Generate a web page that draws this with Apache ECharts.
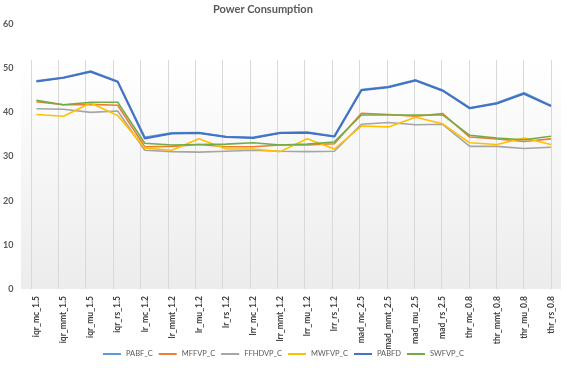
<!DOCTYPE html>
<html>
<head>
<meta charset="utf-8">
<script src="https://cdn.jsdelivr.net/npm/echarts@6/dist/echarts.min.js"></script>
<style>
  html, body { margin: 0; padding: 0; background: #fff; }
  #chart { width: 567px; height: 368px; }
</style>
</head>
<body>
<div id="chart"></div>
<script>
const categories = [
  'iqr_mc_1.5', 'iqr_mmt_1.5', 'iqr_mu_1.5', 'iqr_rs_1.5',
  'lr_mc_1.2', 'lr_mmt_1.2', 'lr_mu_1.2', 'lr_rs_1.2',
  'lrr_mc_1.2', 'lrr_mmt_1.2', 'lrr_mu_1.2', 'lrr_rs_1.2',
  'mad_mc_2.5', 'mad_mmt_2.5', 'mad_mu_2.5', 'mad_rs_2.5',
  'thr_mc_0.8', 'thr_mmt_0.8', 'thr_mu_0.8', 'thr_rs_0.8'
];

const pabfC   = [47.1, 47.9, 49.3, 47.0, 34.3, 35.3, 35.4, 34.5, 34.3, 35.4, 35.5, 34.6, 45.1, 45.8, 47.3, 45.0, 41.0, 42.1, 44.4, 41.5];
const mffvpC  = [42.4, 41.7, 41.8, 41.6, 32.2, 32.3, 32.7, 32.2, 32.2, 32.6, 32.6, 32.9, 39.8, 39.5, 39.1, 39.7, 34.4, 34.0, 33.4, 34.0];
const ffhdvpC = [40.8, 40.7, 40.0, 40.3, 31.4, 31.1, 31.0, 31.2, 31.4, 31.2, 31.1, 31.2, 37.3, 37.7, 37.2, 37.3, 32.3, 32.3, 31.8, 32.1];
const mwfvpC  = [39.5, 39.1, 42.1, 39.3, 31.9, 31.4, 34.0, 31.7, 31.7, 31.1, 34.0, 31.7, 36.9, 36.7, 38.9, 37.4, 33.1, 32.7, 34.2, 32.7];
const pabfd   = [47.0, 47.8, 49.2, 46.9, 34.1, 35.2, 35.3, 34.4, 34.2, 35.3, 35.4, 34.5, 45.0, 45.7, 47.2, 44.9, 40.9, 42.0, 44.2, 41.4];
const swfvpC  = [42.7, 41.7, 42.3, 42.3, 33.0, 32.6, 32.7, 32.8, 33.1, 32.6, 32.8, 33.3, 39.4, 39.4, 39.4, 39.4, 34.8, 34.2, 33.8, 34.6];

const yTicks = { min: 0, max: 60, interval: 10 };

const FONT = 'Lato, "Open Sans", sans-serif';

const seriesDefs = [
  { name: 'PABF_C',   data: pabfC,   color: '#5B9BD5', width: 2 },
  { name: 'MFFVP_C',  data: mffvpC,  color: '#ED7D31', width: 1.6 },
  { name: 'FFHDVP_C', data: ffhdvpC, color: '#A5A5A5', width: 1.6 },
  { name: 'MWFVP_C',  data: mwfvpC,  color: '#FFC000', width: 1.6 },
  { name: 'PABFD',    data: pabfd,   color: '#4472C4', width: 2 },
  { name: 'SWFVP_C',  data: swfvpC,  color: '#70AD47', width: 1.6 }
];

// hidden helper axes for the backdrop grids
const hiddenX = (gridIndex, showSplit) => ({
  type: 'category',
  gridIndex,
  data: categories,
  boundaryGap: false,
  axisLine: { show: false },
  axisTick: { show: false },
  axisLabel: { show: false, interval: 0 },
  splitLine: { show: showSplit, interval: 0, lineStyle: { color: '#d9d9d9', width: 1 } }
});
const hiddenY = gridIndex => ({ type: 'value', gridIndex, show: false, splitLine: { show: false } });

const chart = echarts.init(document.getElementById('chart'));

chart.setOption({
  animation: false,
  title: {
    text: 'Power Consumption',
    left: 208,
    top: -1,
    textStyle: { fontFamily: FONT, fontSize: 11, fontWeight: 'bold', color: '#595959' }
  },
  legend: {
    bottom: 5,
    left: 'center',
    icon: 'rect',
    itemWidth: 18,
    itemHeight: 2,
    itemGap: 6,
    textStyle: { fontFamily: FONT, fontSize: 7.5, color: '#595959' },
    data: seriesDefs.map(s => s.name)
  },
  grid: [
    // main plot
    { left: 31, right: 16, top: 24, bottom: 79 },
    // shaded plot-area backdrop
    {
      left: 21, right: 6, top: 60, bottom: 79, show: true, borderWidth: 0,
      backgroundColor: new echarts.graphic.LinearGradient(0, 0, 0, 1, [
        { offset: 0, color: '#ffffff' },
        { offset: 1, color: '#ececec' }
      ])
    },
    // vertical gridlines through the shaded area only
    { left: 31, right: 16, top: 60, bottom: 79 }
  ],
  xAxis: [
    {
      type: 'category',
      gridIndex: 0,
      data: categories,
      boundaryGap: false,
      axisLine: { show: false },
      axisTick: { show: false },
      splitLine: { show: false },
      axisLabel: {
        rotate: 90,
        interval: 0,
        margin: 7,
        fontFamily: FONT,
        fontSize: 8.5,
        fontWeight: 'bold',
        color: '#404040'
      }
    },
    hiddenX(1, false),
    hiddenX(2, true)
  ],
  yAxis: [
    {
      type: 'value',
      gridIndex: 0,
      min: yTicks.min,
      max: yTicks.max,
      interval: yTicks.interval,
      axisLine: { show: false },
      axisTick: { show: false },
      splitLine: { show: false },
      axisLabel: {
        margin: 23,
        fontFamily: FONT,
        fontSize: 9,
        fontWeight: 'bold',
        color: '#595959'
      }
    },
    hiddenY(1),
    hiddenY(2)
  ],
  series: seriesDefs.map(s => ({
    name: s.name,
    type: 'line',
    xAxisIndex: 0,
    yAxisIndex: 0,
    data: s.data,
    showSymbol: false,
    symbol: 'none',
    lineStyle: { color: s.color, width: s.width },
    itemStyle: { color: s.color },
    z: 3
  }))
});
</script>
</body>
</html>
